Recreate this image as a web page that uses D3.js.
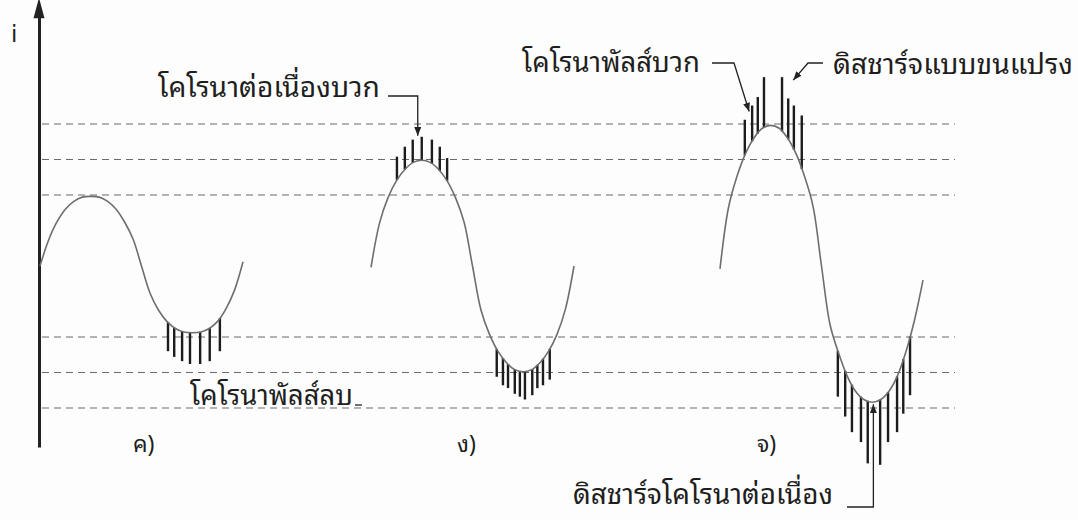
<!DOCTYPE html>
<html><head><meta charset="utf-8">
<script src="https://cdn.jsdelivr.net/npm/d3@7"></script>
<style>
body{margin:0;background:#fff;}
svg text{font-family:"Noto Sans Thai Looped","Noto Serif Thai","Loma","Garuda","Tlwg Typo","Norasi","Noto Sans Thai",sans-serif;fill:#1e1e1e;}
</style></head><body>
<svg id="c" width="1078" height="520"></svg>
<script>
// ---------------- data ----------------
const panelLabels = ["ค)", "ง)", "จ)"];
const axisLabel = "i";
const levels = [1.0, 0.75, 0.5, -0.5, -0.75, -1.0];
const wavePhases = [0,15,30,45,60,75,90,105,120,135,150,165,180,195,210,225,240,255,270,285,300,315,330,345,360];
const wave1 = [0,0.18,0.31,0.40,0.455,0.485,0.49,0.485,0.455,0.40,0.31,0.19,0,-0.19,-0.31,-0.39,-0.44,-0.465,-0.47,-0.465,-0.44,-0.39,-0.30,-0.17,0.03];
const wave2 = [-0.01,0.30,0.48,0.60,0.68,0.73,0.745,0.73,0.68,0.60,0.48,0.31,0,-0.31,-0.48,-0.60,-0.68,-0.73,-0.745,-0.73,-0.68,-0.60,-0.48,-0.30,0];
const wave3 = [-0.02,0.41,0.63,0.79,0.90,0.97,0.99,0.97,0.90,0.79,0.63,0.42,0,-0.41,-0.61,-0.77,-0.88,-0.94,-0.96,-0.94,-0.88,-0.77,-0.60,-0.38,-0.10];
const waves = [wave1, wave2, wave3];
// pulses: phase (deg) and tip current
const pulsePhases1 = [227,238,252,266,284,301,319];
const pulseTips1   = [-0.60,-0.64,-0.67,-0.69,-0.69,-0.67,-0.60];
const pulsePhases2 = [46,60,74,90,108,122,135, 223,234,243,255,264,273,286,295,305,317];
const pulseTips2   = [0.77,0.84,0.89,0.91,0.89,0.84,0.76, -0.78,-0.84,-0.86,-0.90,-0.92,-0.94,-0.91,-0.86,-0.84,-0.80];
const pulsePhases3 = [44,57,67,78,110,121,131,145, 209,222,234,250,262,284,298,314,325,337];
const pulseTips3   = [1.03,1.13,1.19,1.33,1.33,1.18,1.13,1.06, -0.92,-1.06,-1.17,-1.24,-1.39,-1.40,-1.24,-1.17,-1.04,-0.91];
const pulsePhases = [pulsePhases1, pulsePhases2, pulsePhases3];
const pulseTips = [pulseTips1, pulseTips2, pulseTips3];
const annotations = ["โคโรนาต่อเนื่องบวก", "โคโรนาพัลส์บวก", "ดิสชาร์จแบบขนแปรง", "โคโรนาพัลส์ลบ", "ดิสชาร์จโคโรนาต่อเนื่อง"];

// ---------------- layout ----------------
const svg = d3.select("#c");
const W = 1078, H = 520;
svg.append("rect").attr("width", W).attr("height", H).attr("fill", "#fdfdfd");
const y = d3.scaleLinear().domain([-1, 1]).range([408, 124]);
const x = d3.scaleLinear().domain([0, 360]).range([0, 203]);
const panelX = [40, 371, 720];

// defs: arrowheads
const defs = svg.append("defs");
defs.append("marker").attr("id","ah").attr("viewBox","0 0 10 8").attr("refX",10).attr("refY",4)
  .attr("markerWidth",9).attr("markerHeight",7).attr("markerUnits","userSpaceOnUse").attr("orient","auto")
  .append("path").attr("d","M0,0L10,4L0,8Z").attr("fill","#222");

// dashed reference levels
svg.append("g").selectAll("line").data(levels).join("line")
  .attr("x1", 42).attr("x2", 955)
  .attr("y1", d => y(d)).attr("y2", d => y(d))
  .attr("stroke", "#6a6a6a").attr("stroke-width", 1.1).attr("stroke-dasharray", "7,5");

// vertical axis via d3 axis
const yAxisScale = d3.scaleLinear().domain([-1.3, 1.75]).range([447, 14]);
const axG = svg.append("g").attr("transform", "translate(39,0)")
  .call(d3.axisLeft(yAxisScale).ticks(0).tickSizeOuter(0));
axG.select(".domain").attr("stroke", "#222").attr("stroke-width", 3);
svg.append("path").attr("d", `M39,${yAxisScale(1.85)-2}L33.5,${yAxisScale(1.72)}L44.5,${yAxisScale(1.72)}Z`).attr("fill", "#222");
svg.append("text").attr("x", 11).attr("y", 42).attr("font-size", 23)
  .style("font-family", "'DejaVu Sans',sans-serif").text(axisLabel);

// panels
const line = d3.line().x(d => x(d[0])).y(d => y(d[1])).curve(d3.curveCatmullRom.alpha(0.5));
waves.forEach((w, k) => {
  const g = svg.append("g").attr("transform", `translate(${panelX[k]},0)`);
  const pts = wavePhases.map((p, i) => [p, w[i]]);
  const curveAt = p => {
    const i = Math.min(wavePhases.length - 2, Math.floor(p / 15));
    const t = (p - wavePhases[i]) / 15;
    return w[i] + (w[i + 1] - w[i]) * t;
  };
  g.append("g").selectAll("line").data(pulsePhases[k].map((p, i) => [p, pulseTips[k][i]])).join("line")
    .attr("x1", d => x(d[0])).attr("x2", d => x(d[0]))
    .attr("y1", d => y(curveAt(d[0]))).attr("y2", d => y(d[1]))
    .attr("stroke", "#1c1c1c").attr("stroke-width", 2.4);
  g.append("path").datum(pts).attr("d", line)
    .attr("fill", "none").attr("stroke", "#6e6e6e").attr("stroke-width", 1.6);
});

// panel labels
const labelPos = [[133, 452], [457, 452], [757, 452]];
svg.append("g").selectAll("text").data(panelLabels).join("text")
  .attr("x", (d, i) => labelPos[i][0]).attr("y", (d, i) => labelPos[i][1])
  .attr("font-size", 23).text(d => d);

// annotations with fitted widths
const annLayout = [
  {x: 158, y: 97, w: 222},
  {x: 522, y: 72, w: 178},
  {x: 833, y: 74, w: 240},
  {x: 190, y: 405, w: 163},
  {x: 573, y: 504, w: 260}
];
annotations.forEach((t, i) => {
  const L = annLayout[i];
  const tx = svg.append("text").attr("x", L.x).attr("y", L.y).attr("font-size", 22).text(t);
  const len = tx.node().getComputedTextLength();
  const fs = 22 * L.w / len;
  tx.attr("font-size", fs);
  if (i === 3) {
    const bb = tx.node().getBBox();
    svg.insert("rect", "text").attr("x", bb.x - 2).attr("y", L.y - 6).attr("width", bb.width + 4).attr("height", 8).attr("fill", "#fdfdfd");
  }
});

// leaders
const lead = (d, arrow) => svg.append("path").attr("d", d).attr("fill", "none")
  .attr("stroke", "#222").attr("stroke-width", 1.3).attr("marker-end", arrow ? "url(#ah)" : null);
const px2 = p => panelX[1] + x(p), px3 = p => panelX[2] + x(p);
lead(`M388,96H${px2(90) - 4}V${y(0.91) - 1}`, true);
lead(`M712,63H734L${px3(57) - 3},${y(1.13) + 6}`, true);
lead(`M823,63H808L${px3(121) + 5},${y(1.33) + 3}`, true);
lead(`M847,507H${px3(272)}V${y(-0.96) + 2}`, true);
lead(`M355,405H362`, false);
</script>
</body></html>
